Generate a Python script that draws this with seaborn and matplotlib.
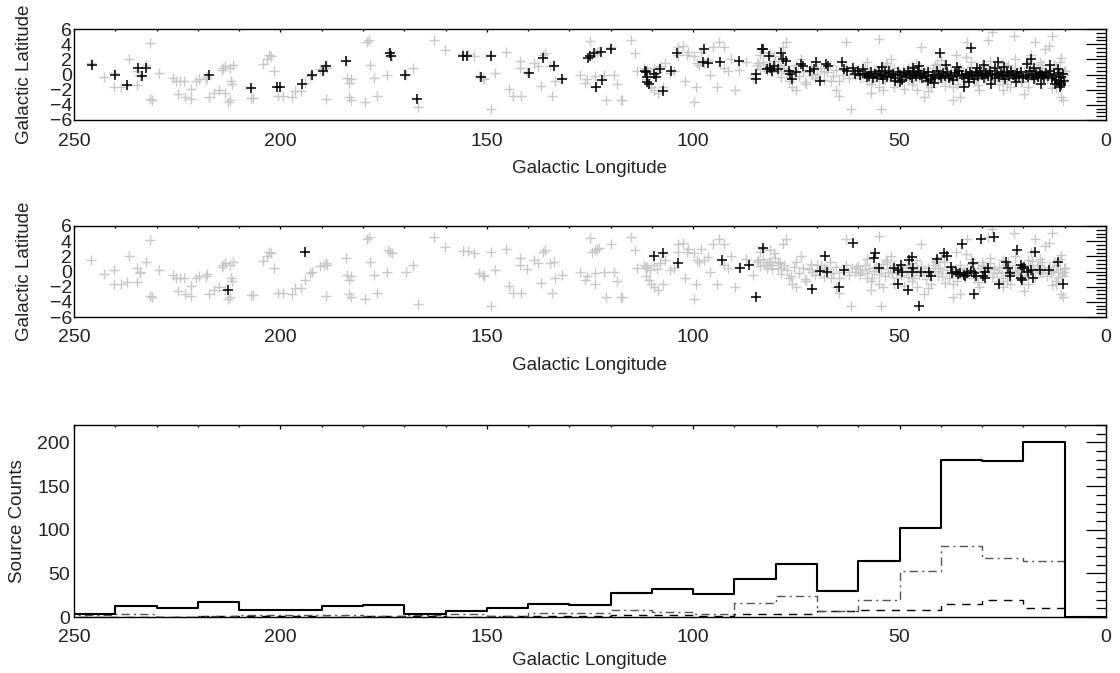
import numpy as np
import matplotlib
matplotlib.use("Agg")
import matplotlib.pyplot as plt
import seaborn as sns
from matplotlib.ticker import MultipleLocator

sns.set_style("white")
plt.rcParams["font.family"] = ["Liberation Sans", "DejaVu Sans"]
plt.rcParams["axes.unicode_minus"] = True

# ---------------------------------------------------------------------------
# All catalogue sources (longitude, latitude) in degrees
ALL_SOURCES = [
    (245.9, 1.5), (242.8, -0.3), (240.4, -1.7), (240.3, 0.2), (238.5, -1.7),
    (237.2, -1.4), (236.6, 2.0), (234.7, -1.4), (234.7, 0.5), (234.1, 0.0),
    (234.1, -0.2), (232.5, 1.2), (231.6, 4.2), (231.6, -3.2), (231.2, -3.3),
    (229.5, 0.2), (226.0, -0.4), (225.2, -0.8), (224.7, -2.6), (224.3, -0.9),
    (223.4, -0.9), (223.0, -3.0), (221.7, -3.2), (221.7, -1.9), (220.4, -0.8),
    (219.6, -0.6), (218.0, -0.6), (217.8, -0.3), (217.4, -3.0), (216.1, -2.4),
    (214.8, -2.1), (214.2, 0.6), (214.0, 0.9), (213.5, -2.4), (213.5, 1.1),
    (212.2, 0.9), (212.0, -0.9), (211.8, -1.2), (212.2, -3.4), (212.7, -3.6),
    (211.4, 1.3), (207.1, -3.1), (206.6, -3.1), (204.1, 1.4), (203.2, 2.1),
    (202.8, 2.6), (202.3, 2.4), (201.5, 0.4), (200.6, -2.8), (199.3, -2.8),
    (197.2, -3.0), (196.5, -2.2), (195.0, -2.2), (194.1, -1.1), (192.8, -0.2),
    (192.4, 0.0), (190.3, 0.7), (189.4, 0.9), (189.0, 1.1), (188.7, 0.9),
    (189.0, -3.2), (184.2, 1.8), (183.4, -1.1), (183.8, -0.4), (182.9, -0.6),
    (183.4, -3.0), (182.9, -3.4), (179.5, -3.6), (179.1, 4.3), (178.6, 4.5),
    (178.2, 1.2), (177.3, -0.4), (176.5, -2.8), (173.9, 2.8), (173.4, 2.6),
    (173.0, 2.4), (174.1, 0.0), (169.6, 0.0), (167.8, 0.9), (166.6, -4.3),
    (162.7, 4.5), (160.1, 3.2), (155.8, 2.7), (154.5, 2.7), (153.2, 2.4),
    (151.9, -0.2), (151.0, -0.4), (150.6, -0.6), (148.9, 2.6), (148.0, 0.2),
    (148.9, -4.5), (145.4, 3.0), (144.6, -1.9), (143.7, -2.8), (142.0, 1.8),
    (142.0, 0.9), (141.6, -2.8), (140.3, 0.3), (138.5, 1.5), (137.7, 1.1),
    (136.4, 2.6), (135.9, 2.8), (136.8, -1.5), (134.7, 1.1), (133.8, 1.3),
    (133.4, -0.9), (134.2, -2.8),
    (131.9, -0.4), (127.5, 0.0), (126.2, -1.1), (125.8, -0.6), (125.0, 4.4),
    (124.5, 2.6), (123.7, 2.8), (123.2, 3.0), (122.8, 3.1), (123.7, -0.2),
    (123.7, -1.7), (121.5, 0.0), (121.1, -3.4), (119.8, 3.6), (119.3, 0.0),
    (118.5, -1.3), (117.6, -3.4), (117.2, -3.4), (115.0, 4.5), (114.1, 2.8),
    (113.7, 0.4), (112.0, 0.9), (111.5, 0.4), (111.1, 0.6), (111.5, -0.6),
    (110.7, -1.1), (110.2, -1.7), (109.4, -2.1), (108.5, -2.4), (107.2, -1.7),
    (108.1, 1.1), (106.8, 1.5), (105.5, 0.2), (104.6, 0.4), (103.8, 2.6),
    (103.8, 3.6), (102.5, 3.8), (102.0, -0.9), (101.6, 2.6), (101.2, 3.0),
    (99.9, 2.4), (99.9, -3.6), (99.4, -1.7), (99.0, 1.5), (98.6, 1.3),
    (98.1, 3.0), (97.3, 1.5), (96.4, 1.9), (96.0, 0.0), (95.1, 3.6),
    (94.2, -1.7), (93.8, 4.3), (92.5, 3.6), (92.5, 0.9), (91.6, 0.4),
    (90.8, 2.1), (89.9, -2.1), (89.0, 0.6), (87.3, 1.7), (85.6, -0.4),
    (84.3, 1.5), (83.9, 2.6), (83.0, 3.0), (82.6, 0.9), (82.1, 0.4),
    (81.7, 1.3), (81.3, 2.8), (80.8, 0.9), (80.4, 2.4), (79.5, 1.3),
    (78.7, 0.4), (78.2, 3.6), (77.4, 4.3), (76.9, -0.9), (76.1, -1.7),
    (75.2, -2.1), (73.9, 2.1), (72.6, -1.3), (71.3, 0.0), (70.0, 0.9),
    (68.3, 0.4), (66.6, -0.9), (65.3, -2.1), (64.8, -2.8), (63.1, 4.3),
    (61.8, -4.5), (60.5, 0.4), (59.6, -0.2), (57.9, -0.9), (57.0, -2.4),
    (56.2, 0.4), (54.9, 4.7), (54.4, -4.5), (54.0, -2.1), (53.2, 1.5),
    (51.9, 0.0), (51.4, -1.7), (50.5, 0.4), (49.3, 0.0), (48.0, 0.9),
    (46.7, -0.9), (45.8, -2.1), (44.9, 3.6), (44.1, -3.0), (43.2, -0.2),
    (42.3, -1.7), (41.5, 1.3), (40.6, 0.4), (39.7, -0.6), (38.9, -1.5),
    (37.1, -3.4), (36.3, 2.6), (35.4, -3.0), (34.5, 0.0), (33.7, 4.3),
    (32.8, 1.7), (32.0, -0.9), (30.7, -2.1), (29.8, 0.9), (28.5, 4.5),
    (27.6, 5.6), (27.2, -0.2), (25.9, -1.3), (25.0, 1.5), (24.2, 0.9),
    (23.3, -1.7), (22.4, 5.1), (21.6, 0.0), (20.3, -0.9), (19.8, -2.6),
    (19.0, 1.5), (18.1, 2.6), (17.3, 4.3), (16.4, 0.9), (15.5, -0.2),
    (14.7, 3.4), (13.8, 3.8), (13.0, 5.1), (12.5, 1.3), (12.1, -1.7),
    (11.6, 0.0), (11.2, 1.7), (10.8, -3.0), (10.3, -3.4), (10.3, -0.6),
    (10.1, 0.0), (10.0, 0.4),
    # crowded inner-Galaxy band
    (79.5, 0.4), (78.8, -0.3), (78.0, 0.9), (77.2, 0.2), (76.4, -0.6),
    (75.7, 0.6), (75.0, 1.3), (74.3, -0.2), (73.5, 0.5), (72.8, -1.0),
    (72.0, 0.3), (71.4, 1.0), (70.6, -0.4), (69.9, 0.1), (69.1, 0.8),
    (68.4, -0.7), (67.6, 0.3), (66.9, 1.2), (66.1, -0.2), (65.3, 0.6),
    (64.6, -0.9), (63.8, 0.0), (63.1, 0.9), (62.3, -0.4), (61.6, 0.4),
    (60.8, -0.1), (60.1, 0.7), (59.5, -0.5), (59.0, 0.2), (58.4, 0.9),
    (57.9, -0.2), (57.3, 0.4), (56.8, -0.8), (56.2, 0.1), (55.7, 0.6),
    (55.1, -0.3), (54.6, 0.3), (54.0, 1.0), (53.5, -0.6), (52.9, 0.0),
    (52.4, 0.5), (51.8, -0.2), (51.3, 0.8), (50.7, -0.9), (50.2, 0.2),
    (49.6, -0.4), (49.1, 0.6), (48.5, 0.1), (48.0, -0.7), (47.4, 0.4),
    (46.9, 1.1), (46.3, -0.1), (45.8, 0.3), (45.2, -0.5), (44.7, 0.7),
    (44.1, 0.0), (43.6, -1.0), (43.0, 0.4), (42.5, -0.3), (41.9, 0.9),
    (41.4, 0.1), (40.8, -0.6), (40.3, 0.5), (39.7, -0.2), (39.2, 1.2),
    (38.6, 0.2), (38.1, -0.8), (37.5, 0.6), (37.0, -0.1), (36.4, 0.3),
    (35.9, -0.5), (35.3, 0.8), (34.8, 0.0), (34.2, -0.9), (33.7, 0.4),
    (33.1, -0.2), (32.6, 1.0), (32.0, 0.1), (31.5, -0.6), (30.9, 0.5),
    (30.4, -0.1), (29.8, 0.7), (29.3, -0.4), (28.7, 0.2), (28.2, 1.1),
    (27.6, -0.7), (27.1, 0.3), (26.5, -0.2), (26.0, 0.6), (25.4, 0.0),
    (24.9, -0.8), (24.3, 0.4), (23.8, 1.3), (23.2, -0.3), (22.7, 0.1),
    (22.1, 0.8), (21.6, -0.5), (21.0, 0.2), (20.5, -1.0), (19.9, 0.5),
    (19.4, 0.0), (18.8, -0.4), (18.3, 0.9), (17.7, 0.2), (17.2, -0.7),
    (16.6, 0.4), (16.1, -0.1), (15.5, 1.2), (15.0, 0.3), (14.4, -0.6),
    (13.9, 0.6), (13.3, -0.2), (12.8, 0.1), (12.2, 0.8), (11.7, -0.9),
    (11.1, 0.3), (10.6, -0.3), (10.2, 0.5),
    (58.0, 1.7), (55.0, -1.6), (52.0, 2.0), (49.0, -1.9), (46.0, 1.5),
    (43.0, -2.2), (40.0, 1.9), (37.0, -1.7), (34.0, 2.3), (31.0, -1.4),
    (28.0, 1.8), (25.0, -2.0), (22.0, 2.1), (19.0, -1.6), (16.0, 1.6),
    (13.0, -1.8), (11.0, 2.2), (57.0, -1.2), (53.0, 1.3), (47.0, -1.3),
    (41.0, 1.4), (36.0, -1.3), (30.0, 1.3), (24.0, -1.2), (18.0, 1.4),
    (12.0, -1.3), (84.5, 1.2), (83.8, 0.7), (83.0, 1.6), (82.2, 0.9),
    (81.5, 1.3), (80.8, 0.3), (80.2, 1.8), (79.0, 1.1), (111.5, 0.6),
    (110.5, 0.2), (109.5, 0.8), (108.8, 0.3),
]

# Sources of the first sub-sample (upper panel)
SUBSET_A = [
    (245.6, 1.3), (240.1, 0.0), (237.2, -1.4), (234.4, 0.8), (233.5, -0.2),
    (232.5, 0.9), (217.2, -0.1), (207.1, -1.8), (200.8, -1.6), (200.2, -1.6),
    (194.7, -1.3), (192.4, -0.1), (189.8, 0.4), (189.0, 1.1), (184.1, 1.8),
    (173.4, 2.8), (173.2, 2.5), (169.7, -0.1), (166.8, -3.2), (155.8, 2.5),
    (154.7, 2.5), (151.5, -0.3), (148.9, 2.4), (139.8, 0.2), (136.4, 2.2),
    (133.8, 1.1),
    (131.9, -0.6), (125.4, 2.2), (124.9, 2.4), (124.1, 2.8), (122.4, 3.0),
    (119.8, 3.4), (123.6, -1.7), (122.1, -0.7), (111.7, 0.5), (111.5, 0.3),
    (111.1, -0.3), (111.1, -1.0), (110.8, -1.2), (109.4, 0.1), (109.0, -0.3),
    (108.1, 0.7), (107.2, -2.2), (105.3, 0.5), (103.9, 2.8), (97.3, 3.3),
    (97.7, 1.6), (96.4, 1.5), (93.5, 1.7), (89.0, 1.8), (84.9, 0.1),
    (84.7, -0.6), (83.4, 3.3), (83.0, 3.3), (81.7, 2.5), (82.1, 0.7),
    (81.3, 0.9), (80.4, 1.1), (80.8, 0.5), (79.5, 0.7), (78.7, 2.8),
    (78.2, 2.0), (77.6, 1.8), (76.9, 0.5), (76.5, 0.1), (76.1, -0.6),
    (75.2, 0.3), (73.9, 1.4), (73.5, 1.1), (71.7, 0.5), (70.7, 0.7),
    (70.2, 1.7), (69.2, -0.8), (67.9, 1.4), (67.4, 1.1), (64.0, 1.6),
    (63.5, 0.7), (62.7, 0.5), (61.4, 0.9), (60.9, 0.1), (60.1, 0.5),
    (59.6, -0.1), (58.9, 0.7), (58.3, 0.1), (57.9, -0.3), (51.0, -0.8),
    (40.2, 2.8), (34.5, -1.7), (32.8, 3.5), (26.1, 1.7), (18.1, 2.0),
    (11.2, -1.6), (10.8, -1.4), (11.6, 0.7),
    (57.5, -0.2), (57.0, 0.3), (56.5, -0.5), (56.0, 0.1), (55.5, -0.3),
    (55.0, 0.4), (54.5, -0.1), (54.0, -0.6), (53.5, 0.2), (53.0, -0.3),
    (52.5, 0.5), (52.0, -0.2), (51.5, 0.1), (51.0, -0.5), (50.5, 0.3),
    (50.0, -0.1), (49.5, -0.7), (49.0, 0.2), (48.5, -0.3), (48.0, 0.4),
    (47.5, -0.1), (47.0, -0.5), (46.5, 0.2), (46.0, -0.2), (45.5, 0.5),
    (45.0, 0.0), (44.5, -0.4), (44.0, 0.2), (43.5, -0.2), (43.0, 0.3),
    (42.5, -0.6), (42.0, 0.0), (41.5, -0.3), (41.0, 0.4), (40.5, -0.1),
    (40.0, -0.5), (39.5, 0.2), (39.0, -0.2), (38.5, 0.3), (38.0, -0.4),
    (37.5, 0.0), (37.0, -0.7), (36.5, 0.2), (36.0, -0.2), (35.5, 0.4),
    (35.0, -0.1), (34.5, -0.5), (34.0, 0.1), (33.5, -0.3), (33.0, 0.3),
    (32.5, -0.1), (32.0, -0.6), (31.5, 0.2), (31.0, -0.2), (30.5, 0.4),
    (30.0, 0.0), (29.5, -0.4), (29.0, 0.2), (28.5, -0.2), (28.0, 0.5),
    (27.5, -0.1), (27.0, -0.5), (26.5, 0.1), (26.0, -0.3), (25.5, 0.3),
    (25.0, -0.1), (24.5, -0.6), (24.0, 0.2), (23.5, -0.2), (23.0, 0.4),
    (22.5, 0.0), (22.0, -0.4), (21.5, 0.2), (21.0, -0.2), (20.5, 0.3),
    (20.0, -0.5), (19.5, 0.0), (19.0, -0.3), (18.5, 0.4), (18.0, -0.1),
    (17.5, -0.6), (17.0, 0.1), (16.5, -0.3), (16.0, 0.3), (15.5, -0.1),
    (15.0, -0.5), (14.5, 0.2), (14.0, -0.2), (13.5, 0.4), (13.0, -0.4),
    (12.5, 0.0), (12.0, -0.7), (11.5, 0.2), (11.0, -0.3), (10.5, 0.1),
    (10.2, -0.8), (10.8, -1.1), (11.3, -0.9),
    (54.2, 1.0), (49.8, -1.0), (45.3, 1.1), (41.7, -1.1), (38.8, 1.2),
    (36.2, 1.0), (33.2, -1.0), (29.6, 1.3), (27.8, -1.2), (24.6, 1.0),
    (21.8, -1.0), (19.2, 1.4), (15.8, -1.2), (13.6, 1.2), (12.4, -1.3),
    (46.8, 0.9), (43.2, -0.9), (31.2, 0.9), (26.8, 0.8), (17.4, 0.9),
]

# Sources of the second sub-sample (middle panel)
SUBSET_B = [
    (212.7, -2.5), (194.1, 2.6),
    (109.6, 2.1), (107.2, 2.4), (103.8, 1.1), (93.0, 1.5), (88.6, 0.4),
    (86.5, 0.9), (84.9, -3.4), (83.0, 3.1), (71.3, -2.3), (69.3, 0.1),
    (67.6, -0.1), (68.1, 2.0), (64.7, -2.1), (63.5, 0.2), (61.2, 3.7),
    (56.3, 1.8), (56.0, 2.4), (54.9, 0.5), (51.4, 0.4), (50.5, 0.2),
    (49.7, 0.9), (49.3, 0.0), (50.5, -1.6), (48.0, -2.4), (47.7, 1.5),
    (47.1, 1.9), (47.1, 0.0), (46.7, 0.4), (45.4, -4.5), (44.9, 0.0),
    (42.8, 0.0), (42.3, -0.6), (41.0, 1.7), (39.3, 2.4), (38.4, 2.1),
    (37.6, 0.6), (37.2, -0.2), (36.3, 0.0), (35.8, -0.3), (35.4, -0.2),
    (34.5, -0.4), (33.7, -0.2), (34.1, -0.6), (35.0, 3.6), (32.1, 1.1),
    (32.8, 0.1), (31.9, -0.2), (31.5, -0.6), (32.0, -3.0), (30.2, 4.3),
    (27.2, 4.5), (29.4, 0.0), (28.5, 0.4), (29.8, -0.6), (29.4, -0.9),
    (25.9, -1.7), (24.2, 1.3), (23.7, 0.4), (23.3, -0.2), (23.3, -0.6),
    (21.6, 2.8), (20.7, 0.9), (20.3, 0.4), (19.8, 0.6), (20.7, -0.9),
    (20.3, -1.1), (19.0, 0.0), (18.1, 0.2), (17.7, -0.9), (17.3, 2.6),
    (16.0, 0.2), (13.8, 0.2), (11.6, 1.3), (10.3, -1.7),
]

# Longitude histogram: 10-degree bins, left edges from 0 to 240
BIN_LEFT = [0, 10, 20, 30, 40, 50, 60, 70, 80, 90, 100, 110, 120,
            130, 140, 150, 160, 170, 180, 190, 200, 210, 220, 230, 240]
COUNTS_ALL = [0, 201, 179, 180, 102, 64, 30, 61, 44, 26, 32, 28, 14,
              15, 10, 7, 3, 14, 13, 8, 8, 17, 10, 13, 3]
# sub-sample counts cover the 10-250 range
COUNTS_A = [64, 68, 81, 53, 19, 7, 24, 16, 4, 6, 8, 5,
            5, 1, 3, 2, 1, 2, 2, 2, 1, 0, 4, 2]
COUNTS_B = [10, 19, 15, 8, 8, 7, 3, 3, 1, 2, 2, 1,
            1, 1, 0, 1, 1, 0, 1, 1, 1, 0, 0, 0]

LON_TICKS = [250, 200, 150, 100, 50, 0]

# ---------------------------------------------------------------------------
all_src = np.array(ALL_SOURCES)
sub_a = np.array(SUBSET_A)
sub_b = np.array(SUBSET_B)

fig = plt.figure(figsize=(11.2, 6.73), dpi=100)
LEFT, WIDTH = 74 / 1120, 1032 / 1120
ax1 = fig.add_axes([LEFT, 1 - 120 / 673, WIDTH, 91 / 673])
ax2 = fig.add_axes([LEFT, 1 - 317 / 673, WIDTH, 91 / 673])
ax3 = fig.add_axes([LEFT, 1 - 617 / 673, WIDTH, 192 / 673])

LABEL_FS = 13.5
TICK_FS = 14
TEXT_COLOR = "#222222"
GREY = "#c8c8c8"


def style_axis(ax, xlen_major, ylen_major, ypad, xlabelpad):
    ax.set_xlim(250, 0)
    ax.set_xticks(LON_TICKS)
    ax.set_xticklabels([str(t) for t in LON_TICKS])
    ax.xaxis.set_minor_locator(MultipleLocator(10))
    ax.tick_params(axis="both", which="both", direction="in",
                   top=True, right=True, colors="black", width=0.9,
                   labelcolor=TEXT_COLOR)
    ax.tick_params(axis="x", which="major", length=xlen_major, pad=9,
                   labelsize=TICK_FS)
    ax.tick_params(axis="x", which="minor", length=xlen_major * 0.6)
    ax.tick_params(axis="y", which="major", length=ylen_major, pad=ypad,
                   labelsize=TICK_FS)
    ax.tick_params(axis="y", which="minor", length=ylen_major / 2)
    for sp in ax.spines.values():
        sp.set_color("black")
        sp.set_linewidth(1.0)
    ax.set_xlabel("Galactic Longitude", fontsize=LABEL_FS,
                  labelpad=xlabelpad, color=TEXT_COLOR)


def scatter_panel(ax, subset):
    sns.scatterplot(x=all_src[:, 0], y=all_src[:, 1], ax=ax, marker="+",
                    color=GREY, s=50, linewidth=1.0, legend=False, zorder=2)
    sns.scatterplot(x=subset[:, 0], y=subset[:, 1], ax=ax, marker="+",
                    color="black", s=50, linewidth=1.1, legend=False, zorder=3)
    ax.set_ylim(-6, 6)
    ax.set_yticks([-6, -4, -2, 0, 2, 4, 6])
    ax.yaxis.set_minor_locator(MultipleLocator(0.5))
    style_axis(ax, 2.2, 14.5, 1.5, 7.5)
    ax.set_ylabel("Galactic Latitude", fontsize=LABEL_FS, labelpad=12,
                  color=TEXT_COLOR)


scatter_panel(ax1, sub_a)
scatter_panel(ax2, sub_b)

# Histogram panel
edges_all = BIN_LEFT + [250]
centers_all = [b + 5 for b in BIN_LEFT]
edges_sub = BIN_LEFT[1:] + [250]
centers_sub = [b + 5 for b in BIN_LEFT[1:]]

sns.histplot(x=centers_sub, weights=COUNTS_B, bins=edges_sub, element="step",
             fill=False, color="black", linewidth=1.0,
             linestyle=(0, (6, 5)), ax=ax3)
sns.histplot(x=centers_sub, weights=COUNTS_A, bins=edges_sub, element="step",
             fill=False, color="#555555", linewidth=1.0,
             linestyle=(0, (6, 3, 1.5, 3)), ax=ax3)
sns.histplot(x=centers_all, weights=COUNTS_ALL, bins=edges_all, element="step",
             fill=False, color="black", linewidth=1.5, ax=ax3)
ax3.set_ylim(0, 220)
ax3.set_yticks([0, 50, 100, 150, 200])
ax3.yaxis.set_minor_locator(MultipleLocator(10))
style_axis(ax3, 3.0, 14.5, 3, 4)
ax3.set_ylabel("Source Counts", fontsize=LABEL_FS, labelpad=8,
               color=TEXT_COLOR)

fig.savefig("out.png", dpi=100, facecolor="white")
